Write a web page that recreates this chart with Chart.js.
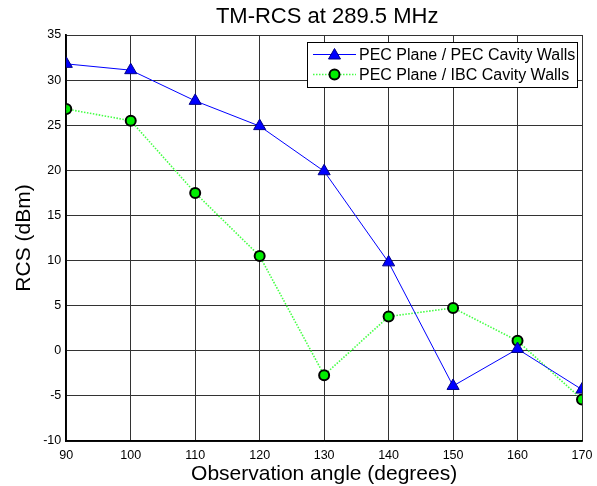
<!DOCTYPE html>
<html>
<head>
<meta charset="utf-8">
<script src="https://cdn.jsdelivr.net/npm/chart.js@4/dist/chart.umd.min.js"></script>
<style>
  html, body { margin: 0; padding: 0; background: #fff; }
  #wrap { width: 597px; height: 486px; }
</style>
</head>
<body>
<div id="wrap"><canvas id="rcs-chart" width="597" height="486"></canvas></div>
<script>
// Observation angles (degrees)
const angles = [90, 100, 110, 120, 130, 140, 150, 160, 170];

// RCS values (dBm)
const pecWalls = [31.8, 31.1, 27.7, 24.9, 19.9, 9.8, -3.9, 0.2, -4.3];
const ibcWalls = [26.8, 25.5, 17.5, 10.5, -2.7, 3.8, 4.75, 1.1, -5.4];

const seriesLabels = ['PEC Plane / PEC Cavity Walls', 'PEC Plane / IBC Cavity Walls'];
const chartTitle = 'TM-RCS at 289.5 MHz';

const FONT = "'Liberation Sans', Arial, sans-serif";

Chart.defaults.font.family = FONT;
Chart.defaults.color = '#000';

const toPoints = vals => angles.map((a, i) => ({ x: a, y: vals[i] }));

/**
 * Title centred over the axes (not the whole canvas), like MATLAB
 */
const axesTitle = {
    id: 'axesTitle',
    afterDraw(chart) {
        const { ctx, chartArea } = chart;
        ctx.save();
        ctx.font = '22px ' + FONT;
        ctx.fillStyle = '#000';
        ctx.textAlign = 'center';
        ctx.textBaseline = 'middle';
        ctx.fillText(chartTitle, (chartArea.left + chartArea.right) / 2 + 3, 17);
        ctx.restore();
    }
};

/**
 * MATLAB style legend box inside the axes, top right
 */
const insideLegend = {
    id: 'insideLegend',
    afterDatasetsDraw(chart) {
        const { ctx, chartArea } = chart;
        const boxW = 270, boxH = 45;
        const left = chartArea.right - 5 - boxW;
        const top = chartArea.top + 7;

        ctx.save();
        ctx.fillStyle = '#fff';
        ctx.fillRect(left, top, boxW, boxH);
        ctx.strokeStyle = '#000';
        ctx.lineWidth = 1;
        ctx.strokeRect(left + 0.5, top + 0.5, boxW, boxH);

        ctx.font = '16px ' + FONT;
        ctx.textBaseline = 'middle';
        chart.data.datasets.forEach((ds, i) => {
            const y = top + 12.5 + i * 20;
            ctx.strokeStyle = ds.borderColor;
            ctx.lineWidth = ds.borderWidth;
            ctx.setLineDash(ds.borderDash || []);
            ctx.beginPath();
            ctx.moveTo(left + 6, y);
            ctx.lineTo(left + 49, y);
            ctx.stroke();
            ctx.setLineDash([]);

            const mx = left + 27.5;
            ctx.fillStyle = ds.pointBackgroundColor;
            ctx.strokeStyle = ds.pointBorderColor;
            ctx.lineWidth = ds.pointBorderWidth;
            ctx.beginPath();
            if (ds.pointStyle === 'triangle') {
                ctx.moveTo(mx, y - 6);
                ctx.lineTo(mx + 6, y + 4.5);
                ctx.lineTo(mx - 6, y + 4.5);
                ctx.closePath();
            } else {
                ctx.arc(mx, y, 5, 0, Math.PI * 2);
            }
            ctx.fill();
            ctx.stroke();

            ctx.fillStyle = '#000';
            ctx.fillText(ds.label, left + 52, y + 1);
        });
        ctx.restore();
    }
};

new Chart(document.getElementById('rcs-chart'), {
    type: 'line',
    data: {
        datasets: [
            {
                label: seriesLabels[0],
                data: toPoints(pecWalls),
                borderColor: '#0000ff',
                borderWidth: 1,
                pointStyle: 'triangle',
                pointRadius: 7,
                pointBackgroundColor: '#0000ff',
                pointBorderColor: '#000088',
                pointBorderWidth: 1,
                tension: 0
            },
            {
                label: seriesLabels[1],
                data: toPoints(ibcWalls),
                borderColor: '#44ff44',
                borderWidth: 1.6,
                borderDash: [1.5, 1.5],
                pointStyle: 'circle',
                pointRadius: 5,
                pointBackgroundColor: '#00ee00',
                pointBorderColor: '#000',
                pointBorderWidth: 2,
                tension: 0
            }
        ]
    },
    options: {
        responsive: false,
        animation: false,
        events: [],
        layout: { padding: { top: 35, right: 15, left: 6, bottom: 1 } },
        plugins: {
            legend: { display: false },
            tooltip: { enabled: false },
            title: { display: false }
        },
        scales: {
            x: {
                type: 'linear',
                min: 90,
                max: 170,
                // the last label may hang past the axes, like MATLAB
                afterFit: scale => { scale.paddingRight = 0; },
                ticks: { stepSize: 10, color: '#000', font: { size: 12.5 }, padding: 7.5, maxRotation: 0 },
                grid: { color: '#333', lineWidth: 1, drawTicks: false },
                border: { color: '#000', width: 1.8 },
                title: {
                    display: true,
                    text: 'Observation angle (degrees)',
                    color: '#000',
                    font: { size: 21, lineHeight: 1.0 },
                    padding: { top: -7, bottom: 0 }
                }
            },
            y: {
                min: -10,
                max: 35,
                ticks: { stepSize: 5, color: '#000', font: { size: 12.5 }, padding: 5 },
                grid: { color: '#333', lineWidth: 1, drawTicks: false },
                border: { color: '#000', width: 1.8 },
                title: {
                    display: true,
                    text: 'RCS (dBm)',
                    color: '#000',
                    font: { size: 21 },
                    padding: { top: 6, bottom: 1 }
                }
            }
        }
    },
    plugins: [axesTitle, insideLegend]
});
</script>
</body>
</html>
